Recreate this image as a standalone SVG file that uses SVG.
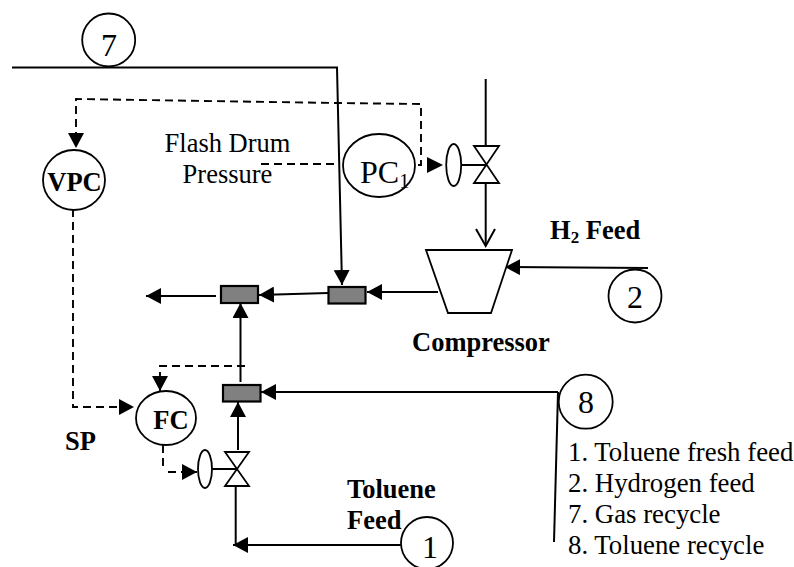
<svg xmlns="http://www.w3.org/2000/svg" width="794" height="567" viewBox="0 0 794 567">
<style>
text{font-family:"Liberation Serif","Times New Roman",serif;fill:#000;font-size:26.5px}
.b{font-weight:bold}
.t{font-size:26.800px}
text.n{font-size:32px;text-anchor:middle}
.s{fill:none;stroke:#000;stroke-width:2}
.d{fill:none;stroke:#000;stroke-width:1.900;stroke-dasharray:8 5}
.o{fill:#fff;stroke:#000;stroke-width:1.800}
.mx{fill:#808080;stroke:#000;stroke-width:2.200}
</style>
<defs>
<marker id="a" markerUnits="userSpaceOnUse" markerWidth="16" markerHeight="16" refX="15" refY="8" orient="auto"><path d="M0 0L15 8L0 16Z" fill="#000"/></marker>
</defs>
<g id="connectors">
<path class="s" d="M12 67.500H337L342 285" marker-end="url(#a)"/>
<path class="s" d="M485.700 79V146M485.700 183V246"/>
<path class="s" d="M476 229L485.700 246L495 229"/>
<path class="s" d="M459 165H486"/>
<path class="s" d="M648 268L505 267" marker-end="url(#a)"/>
<path class="s" d="M438 292H367" marker-end="url(#a)"/>
<path class="s" d="M328 293L259 295" marker-end="url(#a)"/>
<path class="s" d="M216 296H146" marker-end="url(#a)"/>
<path class="s" d="M240.500 382V303" marker-end="url(#a)"/>
<path class="s" d="M238 450V402" marker-end="url(#a)"/>
<path class="s" d="M235.700 486V545"/>
<path class="s" d="M401 545H233" marker-end="url(#a)"/>
<path class="s" d="M558 392H261" marker-end="url(#a)"/>
<path class="s" d="M558 392L554 542"/>
<path class="s" d="M211 469H238"/>
<path class="d" d="M76 140V99L337 103L421 104V165H415"/>
<path class="d" d="M261 164H338"/>
<path class="d" d="M73 209V407H134" marker-end="url(#a)"/>
<path class="d" d="M245 366H160V391" marker-end="url(#a)"/>
<path class="d" d="M163 445V467M168 472H197" marker-end="url(#a)"/>
<path d="M427 157L443 165L427 173Z" fill="#000"/>
<path d="M68 133H84L76 148Z" fill="#000"/>
</g>
<g id="n7"><circle class="o" cx="108.700" cy="40" r="26.500"/><text class="n" x="109" y="56">7</text></g>
<g id="nVPC"><ellipse class="o" cx="74" cy="180" rx="31" ry="30"/><text class="b" x="74.500" y="191" text-anchor="middle">VPC</text></g>
<g id="nPC"><ellipse class="o" cx="379" cy="165.500" rx="36" ry="31.500"/><text x="360" y="183" style="font-size:32px">PC<tspan style="font-size:20px" dy="5">1</tspan></text></g>
<g id="flash"><text x="227.500" y="152" text-anchor="middle">Flash Drum</text><text x="227.500" y="183" text-anchor="middle">Pressure</text></g>
<g id="valve1"><ellipse class="o" cx="453.700" cy="165" rx="7.500" ry="21"/><path class="o" d="M474 146H499L474 183H499Z"/></g>
<g id="compressor"><path class="o" d="M426 250H512L491 313H448Z"/><text class="b" x="412" y="351">Compressor</text></g>
<g id="n2"><circle class="o" cx="635" cy="296" r="26.500"/><text class="n" x="635" y="308">2</text></g>
<g id="h2"><text class="b" x="550" y="239">H<tspan style="font-size:17px" dy="4">2</tspan><tspan dy="-4"> Feed</tspan></text></g>
<g id="mix1"><rect class="mx" x="221" y="286" width="37" height="17"/></g>
<g id="mix2"><rect class="mx" x="328.500" y="287" width="37" height="16.500"/></g>
<g id="mix3"><rect class="mx" x="223" y="385" width="37.500" height="16.500"/></g>
<g id="nFC"><ellipse class="o" cx="166" cy="418" rx="30" ry="27"/><text class="b" x="171" y="429" text-anchor="middle">FC</text></g>
<g id="sp"><text class="b" x="65" y="450">SP</text></g>
<g id="valve2"><ellipse class="o" cx="205" cy="469" rx="7" ry="19"/><path class="o" d="M225 452H249L225 486H249Z"/></g>
<g id="toluene"><text class="b" x="347" y="498">Toluene</text><text class="b" x="347" y="529">Feed</text></g>
<g id="n1"><circle class="o" cx="427" cy="543" r="26"/><text class="n" x="430" y="558">1</text></g>
<g id="n8"><circle class="o" cx="585.700" cy="401.700" r="27"/><text class="n" x="586" y="413">8</text></g>
<g id="legend">
<text class="t" x="568" y="461">1. Toluene fresh feed</text>
<text class="t" x="568" y="492">2. Hydrogen feed</text>
<text class="t" x="568" y="523">7. Gas recycle</text>
<text class="t" x="568" y="554">8. Toluene recycle</text>
</g>
</svg>
